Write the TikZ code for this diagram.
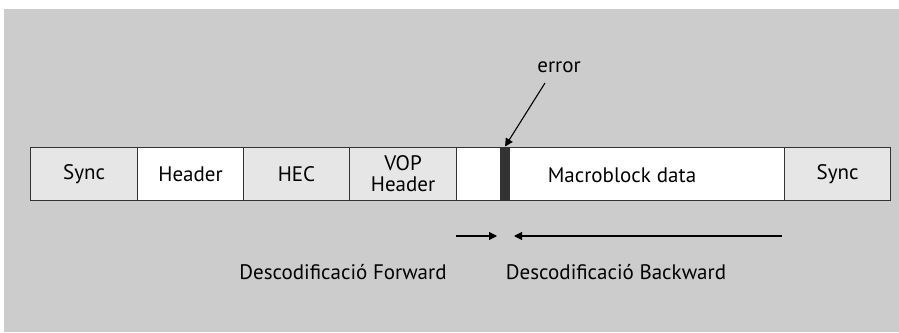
\documentclass[tikz,border=0pt]{standalone}
\usepackage{fontspec}
\setmainfont{PT Sans}
\usetikzlibrary{arrows.meta}
\definecolor{panel}{HTML}{CCCCCC}
\definecolor{cellgrey}{HTML}{E6E6E6}
\definecolor{edge}{HTML}{333333}
\begin{document}
\begin{tikzpicture}[x=1pt,y=-1pt,
  cell/.style={draw=edge,line width=1.1pt,minimum height=53.5pt,inner sep=0pt,
    anchor=north west,font=\fontsize{21}{21}\selectfont,align=center},
  label/.style={font=\fontsize{21}{21}\selectfont,inner sep=0pt},
  conn/.style={line width=1.1pt,draw=black,-{Triangle[length=8pt,width=8pt]}}]
  % page and grey panel
  \useasboundingbox (0,0) rectangle (899,332);
  \fill[white] (0,0) rectangle (899,332);
  \fill[panel] (4,9) rectangle (899,332);
  % packet fields
  \node[cell,fill=cellgrey,minimum width=107pt] (sync1) at (30,146.5) {Sync};
  \node[cell,fill=white,minimum width=106pt] (hdr) at (137,146.5) {Header};
  \node[cell,fill=cellgrey,minimum width=106pt] (hec) at (243,146.5) {HEC};
  \node[cell,fill=cellgrey,minimum width=107pt,font=\fontsize{21}{21.5}\selectfont] (vop) at (349,146.5) {VOP\\Header};
  \node[cell,fill=white,minimum width=44pt] (gap) at (456,146.5) {};
  \node[cell,fill=edge,minimum width=9pt] (err) at (500,146.5) {};
  \node[cell,fill=white,minimum width=275pt] (mb) at (509,146.5) {};
  \node[label] (mbtext) at (622,175) {Macroblock\hspace{6pt}data};
  \node[cell,fill=cellgrey,minimum width=106pt] (sync2) at (784,146.5) {Sync};
  % error marker
  \node[label] (errlabel) at (559,67) {error};
  \coordinate (errstart) at (545,83);
  \draw[conn] (errstart) -- (err.north);
  % decoding directions
  \coordinate (fwA) at (456,236);
  \coordinate (fwB) at (497,236);
  \coordinate (bwA) at (782,236);
  \coordinate (bwB) at (514,236);
  \draw[conn] (fwA) -- (fwB);
  \draw[conn] (bwA) -- (bwB);
  \node[label] (fwd) at (343,272) {Descodificació Forward};
  \node[label] (bwd) at (616,272) {Descodificació Backward};
\end{tikzpicture}
\end{document}
